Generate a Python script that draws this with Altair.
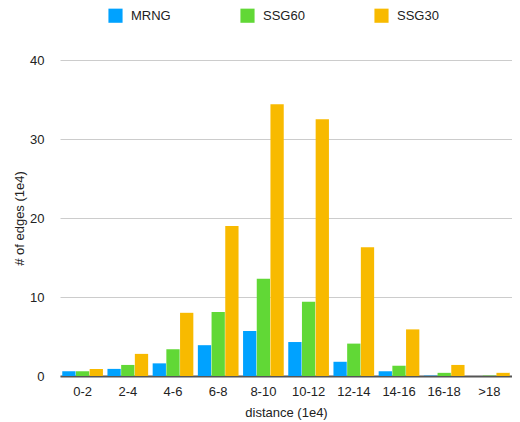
import altair as alt
import pandas as pd

categories = ["0-2", "2-4", "4-6", "6-8", "8-10", "10-12", "12-14", "14-16", "16-18", ">18"]
series = ["MRNG", "SSG60", "SSG30"]
mrng = [0.6, 0.9, 1.6, 3.9, 5.7, 4.3, 1.8, 0.6, 0.05, 0.0]
ssg60 = [0.6, 1.4, 3.4, 8.1, 12.3, 9.4, 4.1, 1.3, 0.4, 0.05]
ssg30 = [0.9, 2.8, 8.0, 19.0, 34.4, 32.5, 16.3, 5.9, 1.4, 0.4]
colors = ["#00A2FF", "#61D836", "#F8BA00"]

rows = []
for s, vals in zip(series, [mrng, ssg60, ssg30]):
    for c, v in zip(categories, vals):
        rows.append({"distance": c, "series": s, "value": v})
df = pd.DataFrame(rows)

font = "Liberation Sans"

chart = alt.Chart(df).mark_bar().encode(
    x=alt.X("distance:N", sort=categories,
            scale=alt.Scale(paddingInner=0.1, paddingOuter=0.05),
            axis=alt.Axis(title="distance (1e4)", labelAngle=0, ticks=False,
                          labelPadding=9, titlePadding=8,
                          domainColor="#555555", domainWidth=2,
                          labelFont=font, titleFont=font, labelFontSize=13,
                          titleFontSize=13, titleFontWeight="normal",
                          labelColor="#222222", titleColor="#222222")),
    xOffset=alt.XOffset("series:N", sort=series, scale=alt.Scale(paddingInner=0.03)),
    y=alt.Y("value:Q", scale=alt.Scale(domain=[0, 40]),
            axis=alt.Axis(title="# of edges (1e4)", values=[0, 10, 20, 30, 40],
                          ticks=False, domain=False, labelPadding=16,
                          titlePadding=3, gridColor="#cccccc", gridWidth=1,
                          labelFont=font, titleFont=font, labelFontSize=13,
                          titleFontSize=13, titleFontWeight="normal",
                          labelColor="#222222", titleColor="#222222")),
    color=alt.Color("series:N", sort=series,
                    scale=alt.Scale(domain=series, range=colors),
                    legend=alt.Legend(title=None, orient="none", direction="horizontal",
                                      legendX=48, legendY=-52,
                                      symbolType="square", symbolSize=200,
                                      symbolStrokeWidth=0, columnPadding=69,
                                      labelFont=font, labelFontSize=13,
                                      labelColor="#222222", labelOffset=8)),
).properties(
    width=452, height=316,
    autosize=alt.AutoSizeParams(type="none"),
    padding={"left": 52, "top": 52, "right": 0, "bottom": 46},
).configure_view(stroke=None)

chart.save("out.html", embed_options={"renderer": "svg", "actions": False})
